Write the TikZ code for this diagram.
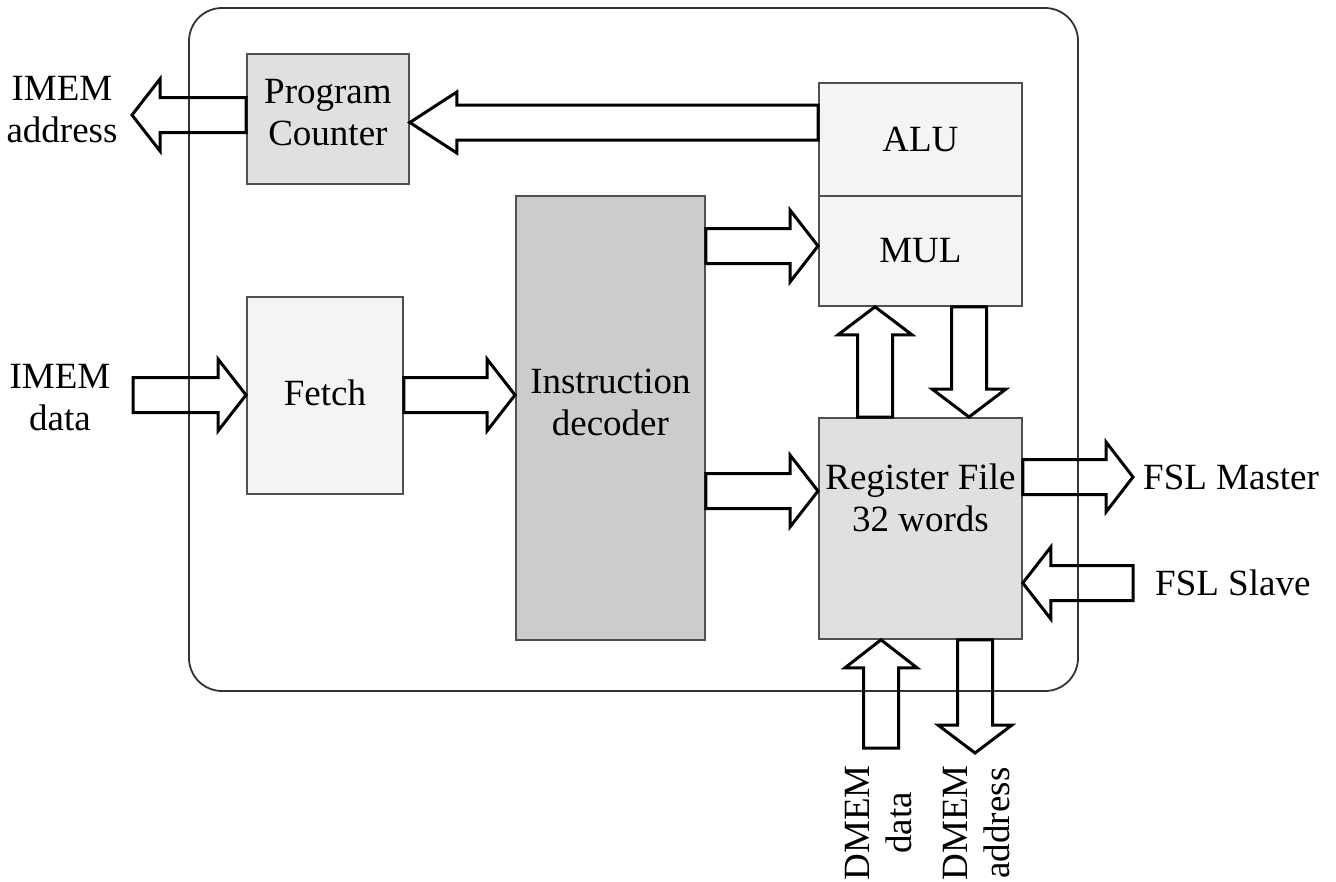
\documentclass[tikz,border=0pt]{standalone}
\usepackage{fontspec}
\setmainfont{Liberation Serif}
\usetikzlibrary{calc}
\definecolor{pcfill}{HTML}{E0E0E0}
\definecolor{lightfill}{HTML}{F4F4F4}
\definecolor{decfill}{HTML}{CCCCCC}
\definecolor{boxline}{HTML}{505050}
\definecolor{outline}{HTML}{333333}
\def\bahl{28pt}
\def\bahw{36pt}
\def\basw{17.5pt}
\tikzset{
  box/.style={draw=boxline, line width=1.8pt, inner sep=0pt, align=center, anchor=north west},
  lbl/.style={inner sep=0pt, align=center},
  headlen/.code={\def\bahl{#1}},
  headhalf/.code={\def\bahw{#1}},
  blockarrow/.style={draw=black, line width=3pt, line join=miter,
    to path={let \p1=(\tikztostart), \p2=(\tikztotarget), \p3=($(\p2)!\bahl!(\p1)$) in
      ($(\p1)!\basw!90:(\p2)$) -- ($(\p3)!\basw!-90:(\p1)$) -- ($(\p3)!\bahw!-90:(\p1)$)
      -- (\p2) -- ($(\p3)!\bahw!90:(\p1)$) -- ($(\p3)!\basw!90:(\p1)$)
      -- ($(\p1)!\basw!-90:(\p2)$) -- cycle}}
}
\begin{document}
\begin{tikzpicture}[x=1pt, y=-1pt, font=\fontsize{37}{42}\selectfont]
\useasboundingbox (0,0) rectangle (1336,881);
% outer frame
\draw[draw=outline, line width=1.8pt, rounded corners=33pt] (189,8) rectangle (1078,691);
% blocks
\node[box, fill=pcfill, minimum width=162pt, minimum height=130pt] (pc) at (246,53) {};
\node[box, fill=lightfill, minimum width=203pt, minimum height=113pt] (alu) at (818,82) {};
\node[box, fill=lightfill, minimum width=203pt, minimum height=110pt] (mul) at (818,195) {};
\node[box, fill=decfill, minimum width=189pt, minimum height=444pt] (dec) at (515,195) {};
\node[box, fill=lightfill, minimum width=156pt, minimum height=197pt] (fetch) at (246,296) {};
\node[box, fill=pcfill, minimum width=203pt, minimum height=221pt] (rf) at (818,417) {};
% block texts
\node[lbl] (pctext) at ([yshift=6pt]pc.center) {Program\\Counter};
\node[lbl] (alutext) at (alu.center) {ALU};
\node[lbl] (multext) at (mul.center) {MUL};
\node[lbl] (dectext) at ([yshift=15pt]dec.center) {Instruction\\decoder};
\node[lbl] (fetchtext) at ([yshift=3pt]fetch.center) {Fetch};
\node[lbl] (rftext) at ([yshift=31pt]rf.center) {Register File\\32 words};
% labels
\node[lbl] (imaddr) at (62,110) {IMEM\\address};
\node[lbl] (imdata) at (60,398) {IMEM\\data};
\node[lbl, anchor=west] (fslmlbl) at (1143,477) {FSL Master};
\node[lbl, anchor=west] (fslslbl) at (1155,583) {FSL Slave};
\node[lbl, rotate=90] (dmdlbl) at (879,823) {DMEM\\data};
\node[lbl, rotate=90] (dmalbl) at (977,823) {DMEM\\address};
% free arrow ends
\coordinate (imaddrend) at (132,115);
\coordinate (imdatastart) at (133,395);
\coordinate (fslmend) at (1133,477);
\coordinate (fslsstart) at (1133,583);
\coordinate (dmdstart) at (881,748);
\coordinate (dmaend) at (975,753);
% arrows
\draw[blockarrow] (pc.west |- 0,115) to (imaddrend);
\draw[blockarrow, headlen=47pt, headhalf=30.5pt] (alu.west |- 0,122.5) to (pc.east |- 0,122.5);
\draw[blockarrow] (imdatastart) to (fetch.west |- 0,395);
\draw[blockarrow] (fetch.east |- 0,395) to (dec.west |- 0,395);
\draw[blockarrow] (dec.east |- 0,246) to (mul.west |- 0,246);
\draw[blockarrow] (dec.east |- 0,491) to (rf.west |- 0,491);
\draw[blockarrow, headhalf=37pt] (rf.north -| 875,0) to (mul.south -| 875,0);
\draw[blockarrow, headhalf=37pt] (mul.south -| 969,0) to (rf.north -| 969,0);
\draw[blockarrow, headlen=27pt, headhalf=35pt] (rf.east |- 0,477) to (fslmend);
\draw[blockarrow] (fslsstart) to (rf.east |- 0,583);
\draw[blockarrow] (dmdstart) to (rf.south -| 881,0);
\draw[blockarrow, headhalf=37pt] (rf.south -| 975,0) to (dmaend);
\end{tikzpicture}
\end{document}
